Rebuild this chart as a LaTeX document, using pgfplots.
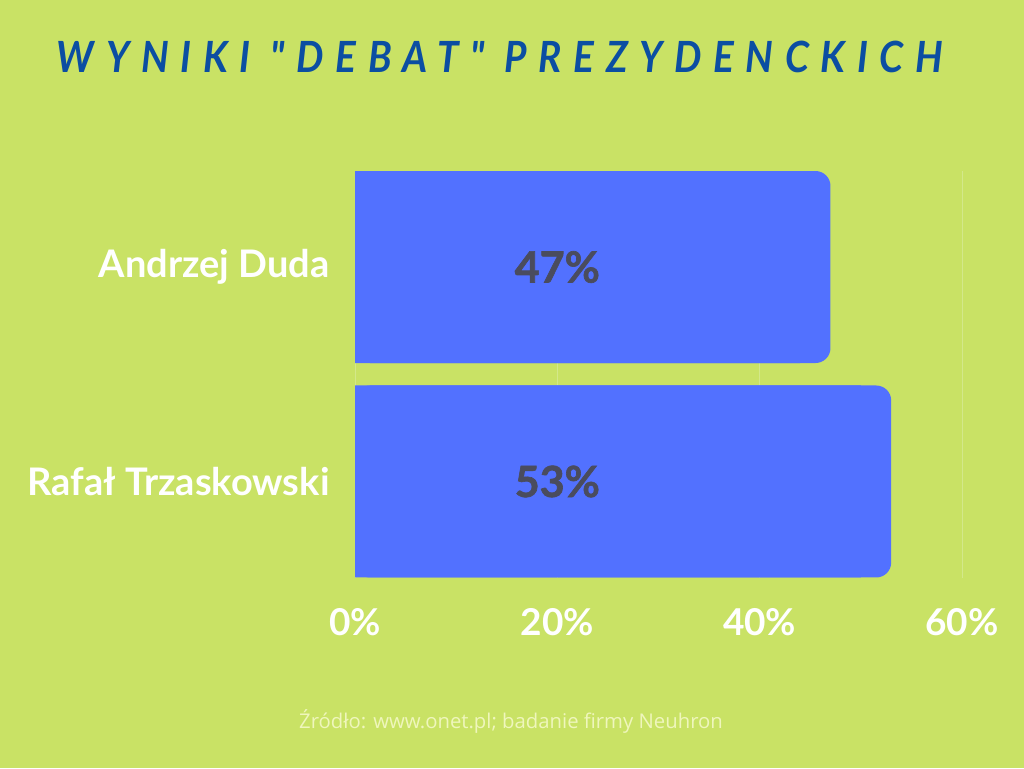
\documentclass[border=0pt]{standalone}
\usepackage{pgfplots}
\usepackage{pgfplotstable}
\pgfplotsset{compat=1.18}
\usepackage{fontspec}
\setmainfont{Lato}
\newfontfamily\titlefont[FakeStretch=0.9,LetterSpace=27]{Lato}
\newfontfamily\heavyfont[BoldFeatures={FakeBold=1.5}]{Lato}
\newfontfamily\footfont{Open Sans}
\definecolor{bg}{HTML}{C9E265}
\definecolor{barblue}{HTML}{5271FF}
\definecolor{titleblue}{HTML}{0B4EA2}
\definecolor{valgray}{HTML}{4A4C5E}
\definecolor{gridc}{HTML}{D3E88A}
\definecolor{footc}{HTML}{EFF6BC}

\pgfplotstableread{
y v
0 53
1 47
}\results

\begin{document}
\begin{tikzpicture}
\fill[bg] (0,0) rectangle (1024pt,-768pt);
\node[text=titleblue, font={\titlefont\bfseries\itshape\fontsize{43}{48}\selectfont}] at (500pt,-57pt) {WYNIKI "DEBAT" PREZYDENCKICH};
\node[text=footc, font={\footfont\fontsize{20.3}{24}\selectfont}] at (511pt,-721pt) {Źródło: www.onet.pl; badanie firmy Neuhron};
\begin{axis}[
    at={(355pt,-578pt)}, anchor=south west,
    scale only axis,
    width=607pt, height=407.5pt,
    xmin=0, xmax=60,
    ymin=-0.45, ymax=1.45,
    axis line style={draw=none},
    major tick length=0pt,
    xtick={0,20,40,60},
    xticklabels={0\%,20\%,40\%,60\%},
    ytick={0,1},
    yticklabels={Rafał Trzaskowski,Andrzej Duda},
    ticklabel style={text=white, font=\bfseries\fontsize{38}{42}\selectfont},
    xticklabel style={yshift=-27pt, font=\bfseries\fontsize{37}{42}\selectfont},
    yticklabel style={xshift=-22pt},
    xmajorgrids,
    grid style={gridc, line width=1pt},
    clip=false,
]
\addplot[xbar, bar width=192pt, bar shift=0pt, fill=barblue, draw=none, rounded corners=15pt]
    table[x=v, y=y] {\results};
\addplot[xbar, bar width=192pt, bar shift=0pt, fill=barblue, draw=none]
    table[x expr=\thisrow{v}-3, y=y] {\results};
\addplot[draw=none, mark=none, nodes near coords, point meta=explicit symbolic,
    nodes near coords style={anchor=center, text=valgray, font=\heavyfont\bfseries\fontsize{43}{46}\selectfont}]
    coordinates {(20,0) [53\%] (20,1) [47\%]};
\end{axis}
\end{tikzpicture}
\end{document}
